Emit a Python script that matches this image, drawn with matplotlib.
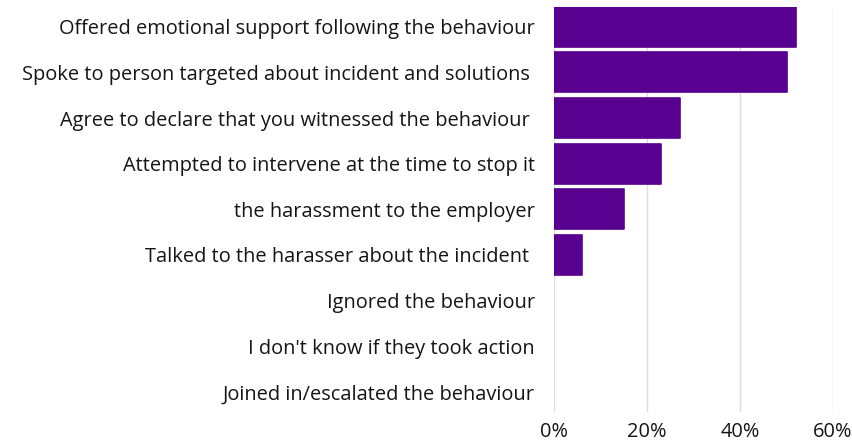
import matplotlib
matplotlib.use("Agg")
import matplotlib.pyplot as plt
from matplotlib.ticker import FixedLocator, FuncFormatter

plt.rcParams['font.family'] = ['Open Sans', 'DejaVu Sans']

categories = [
    "Offered emotional support following the behaviour",
    "Spoke to person targeted about incident and solutions ",
    "Agree to declare that you witnessed the behaviour ",
    "Attempted to intervene at the time to stop it",
    "the harassment to the employer",
    "Talked to the harasser about the incident ",
    "Ignored the behaviour",
    "I don't know if they took action",
    "Joined in/escalated the behaviour",
]
values = [52, 50, 27, 23, 15, 6, 0, 0, 0]
x_ticks = [0, 20, 40, 60]

bar_color = "#58008f"
text_color = "#151515"
grid_color = "#dcdcdc"

fig = plt.figure(figsize=(8.53, 4.43), dpi=100)
ax = fig.add_axes([0.6498, 0.0700, 0.3267, 0.9149])

ypos = list(range(len(categories)))
edge_widths = [1.2 if v > 0 else 0 for v in values]
ax.barh(ypos, values, height=0.88, color=bar_color, edgecolor=bar_color,
        linewidth=edge_widths, joinstyle='round', zorder=3)

ax.set_xlim(0, 60)
ax.set_ylim(len(categories) - 1 + 0.44, -0.44)
ax.xaxis.set_major_locator(FixedLocator(x_ticks))
ax.xaxis.set_major_formatter(FuncFormatter(lambda v, _: f"{v:.0f}%"))
ax.set_yticks(ypos)
ax.set_yticklabels(categories)

ax.grid(axis='x', color=grid_color, linewidth=1, zorder=0)
ax.grid(axis='y', visible=False)
for s in ax.spines.values():
    s.set_visible(False)
ax.tick_params(axis='both', length=0, labelsize=14.4, colors=text_color)
ax.tick_params(axis='y', pad=14)
ax.tick_params(axis='x', pad=7)

fig.savefig("out.png", dpi=100, facecolor="white")
